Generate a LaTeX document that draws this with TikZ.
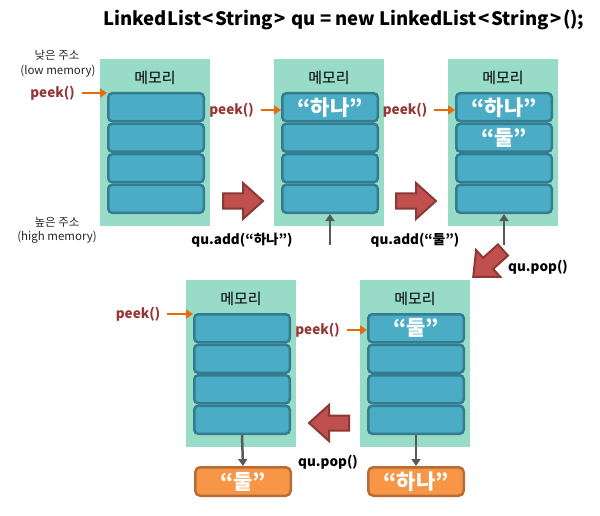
\documentclass[tikz,border=0pt]{standalone}
\usepackage{fontspec}
\setmainfont{Noto Sans CJK KR}
\usetikzlibrary{arrows.meta}

\definecolor{membg}{RGB}{152,219,198}
\definecolor{cellfill}{RGB}{75,172,198}
\definecolor{celledge}{RGB}{52,125,145}
\definecolor{popfill}{RGB}{247,150,70}
\definecolor{popedge}{RGB}{182,108,50}
\definecolor{bigfill}{RGB}{192,80,77}
\definecolor{bigedge}{RGB}{140,56,54}
\definecolor{peekred}{RGB}{149,55,53}
\definecolor{peekorange}{RGB}{228,108,10}
\definecolor{opgray}{RGB}{89,89,89}

\tikzset{
  panelbg/.style={fill=membg, draw=none, minimum width=110pt, minimum height=167pt, inner sep=0pt},
  paneltitle/.style={font=\fontsize{15}{17}\selectfont, inner sep=0pt},
  cell/.style={rounded corners=4pt, fill=cellfill, draw=celledge, line width=2.5pt,
    minimum width=95.5pt, minimum height=28pt, inner sep=0pt,
    text=white, font=\bfseries\fontsize{21}{23}\selectfont},
  popbox/.style={rounded corners=5pt, fill=popfill, draw=popedge, line width=2.5pt,
    minimum width=95.5pt, minimum height=28.5pt, inner sep=0pt,
    text=white, font=\bfseries\fontsize{21}{23}\selectfont},
  peeklabel/.style={text=peekred, font=\bfseries\fontsize{13.5}{15}\selectfont, inner sep=0pt},
  oplabel/.style={text=black, font=\bfseries\fontsize{13.5}{15}\selectfont, inner sep=0pt},
  addrlabel/.style={text=black!85, font=\fontsize{11.5}{13}\selectfont, inner sep=0pt},
  peekarrow/.style={draw=peekorange, line width=2.5pt, shorten <=7pt,
    -{Triangle[length=7pt,width=9pt]}},
  oparrow/.style={draw=opgray, line width=2.5pt, -{Triangle[length=7pt,width=9pt]}},
  bigarrow/.style={fill=bigfill, draw=bigedge, line width=2pt, line join=miter},
}

% one memory panel: name, left x, top y, then the four cell texts
\newcommand\mempanel[7]{%
  \node[panelbg, anchor=north west] (#1) at (#2,#3) {};
  \node[paneltitle] (#1t) at (#2+55,#3+19) {메모리};
  \node[cell] (#1c1) at (#2+56,#3+33+15.25) {#4};
  \node[cell] (#1c2) at (#2+56,#3+33+45.75) {#5};
  \node[cell] (#1c3) at (#2+56,#3+33+76.25) {#6};
  \node[cell] (#1c4) at (#2+56,#3+33+106.75) {#7};
}

% thick block arrow: tail x, tail y, direction
\newcommand\blockarrow[3]{%
  \begin{scope}[shift={(#1,#2)}, rotate=#3]
    \draw[bigarrow] (0,-7.5) -- (20,-7.5) -- (20,-18) -- (40,0) -- (20,18)
      -- (20,7.5) -- (0,7.5) -- cycle;
  \end{scope}}

\newcommand\gap{\hspace{1.5pt}}

\begin{document}
\begin{tikzpicture}[x=1pt, y=-1pt]
\useasboundingbox (0,0) rectangle (600,516);

\node[font=\bfseries\fontsize{18.5}{21}\selectfont, inner sep=0pt] (decl) at (344,20)
  {LinkedList\gap<\gap String\gap>\gap{} qu = new LinkedList\gap<\gap String\gap>\gap();};

% address notes
\node[addrlabel] (lowk) at (57,55) {낮은 주소};
\node[addrlabel] (lowe) at (58,71) {(low memory)};
\node[addrlabel] (highk) at (57,222) {높은 주소};
\node[addrlabel] (highe) at (57,237) {(high memory)};

% memory panels
\mempanel{pa}{100}{59}{}{}{}{}
\mempanel{pb}{274}{59}{“하나”}{}{}{}
\mempanel{pc}{448}{59}{“하나”}{“둘”}{}{}
\mempanel{pd}{186}{280}{}{}{}{}
\mempanel{pe}{360}{280}{“둘”}{}{}{}

% peek pointers
\node[peeklabel] (peeka) at (52.5,93) {peek()};
\node[peeklabel] (peekb) at (231.5,110) {peek()};
\node[peeklabel] (peekc) at (405,110) {peek()};
\node[peeklabel] (peekd) at (138,314) {peek()};
\node[peeklabel] (peeke) at (317.5,330) {peek()};
\draw[peekarrow] (peeka.east) -- (peeka.east -| pac1.west);
\draw[peekarrow] (peekb.east) -- (peekb.east -| pbc1.west);
\draw[peekarrow] (peekc.east) -- (peekc.east -| pcc1.west);
\draw[peekarrow] (peekd.east) -- (peekd.east -| pdc1.west);
\draw[peekarrow] (peeke.east) -- (peeke.east -| pec1.west);

% operations
\node[oplabel] (addone) at (242,240) {qu.add(“하나”)};
\node[oplabel] (addtwo) at (415,240) {qu.add(“둘”)};
\node[oplabel] (popone) at (538,267) {qu.pop()};
\node[oplabel] (poptwo) at (328,462) {qu.pop()};

\coordinate (inb) at (330,245);
\coordinate (inc) at (504,245);
\draw[oparrow] (inb) -- (pbc4.south);
\draw[oparrow] (inc) -- (pcc4.south);

% popped values
\node[popbox] (outd) at (243,481.5) {“둘”};
\node[popbox] (oute) at (416,481.5) {“하나”};
\draw[oparrow] (pdc4.south) -- (outd.north);
\draw[oparrow] (pec4.south) -- (oute.north);

% transitions between states
\blockarrow{223}{201}{0}
\blockarrow{396}{201}{0}
\blockarrow{503}{250}{222}
\blockarrow{349}{423}{180}
\end{tikzpicture}
\end{document}
